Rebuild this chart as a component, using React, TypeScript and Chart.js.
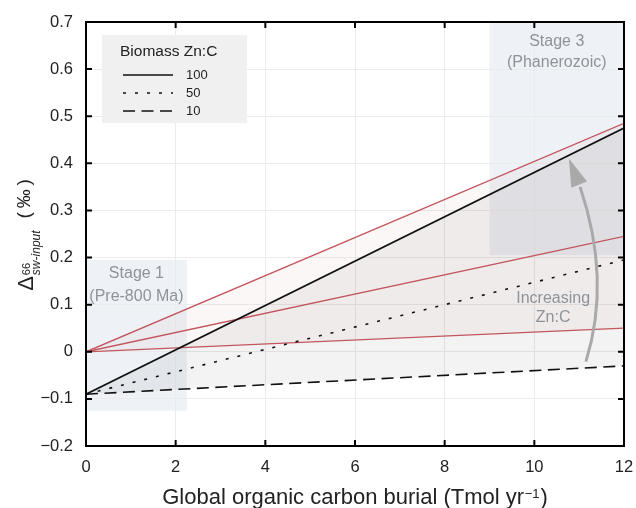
import React, { useEffect, useRef } from 'react';
import { Chart, registerables } from 'chart.js';

Chart.register(...registerables);

// ---- data ----
const burial = [0, 12];
const zn100 = [-0.09, 0.475];
const zn50 = [-0.09, 0.195];
const zn10 = [-0.09, -0.03];
const redHigh = [0, 0.485];
const redMid = [0, 0.245];
const redLow = [0, 0.05];

const xTicks = [0, 2, 4, 6, 8, 10, 12];
const xTickLabels = ['0', '2', '4', '6', '8', '10', '12'];
const yTicks = [-0.2, -0.1, 0, 0.1, 0.2, 0.3, 0.4, 0.5, 0.6, 0.7];
const yTickLabels = ['\u22120.2', '\u22120.1', '0', '0.1', '0.2', '0.3', '0.4', '0.5', '0.6', '0.7'];

const stage1X = [0, 2.25];
const stage1Y = [-0.125, 0.195];
const stage3X = [9, 12];
const stage3Y = [0.205, 0.7];

const stage1Text = ['Stage 1', '(Pre-800 Ma)'];
const stage1TextPos = [[1.125, 0.166], [1.125, 0.117]];
const stage3Text = ['Stage 3', '(Phanerozoic)'];
const stage3TextPos = [[10.5, 0.658], [10.5, 0.614]];
const arrowText = ['Increasing', 'Zn:C'];
const arrowTextPos = [[10.42, 0.1125], [10.42, 0.072]];

// arrow: tail, control, head-base, tip (data units)
const arrowTail = [11.15, -0.021];
const arrowCtrl = [11.72, 0.153];
const arrowBase = [11.02, 0.35];
const arrowTip = [10.77, 0.41];

const legendTitle = 'Biomass Zn:C';
const legendLabels = ['100', '50', '10'];

const FONT = "'Liberation Sans', Arial, Helvetica, sans-serif";
const RED = 'rgb(194, 86, 95)';
const GREYTXT = '#8e9399';
const DOTTED = [3, 9];
const DASHED = [12, 6.5];

const pts = (ys: number[]) => burial.map((x, i) => ({ x, y: ys[i] }));

const decorPlugin = {
  id: 'decor',
  beforeDraw(chart: any) {
    const { ctx, scales } = chart;
    const xs = scales.x, ys = scales.y;
    const box = (bx: number[], by: number[]) => {
      const x0 = xs.getPixelForValue(bx[0]);
      const x1 = xs.getPixelForValue(bx[1]);
      const y0 = ys.getPixelForValue(by[1]);
      const y1 = ys.getPixelForValue(by[0]);
      ctx.save();
      ctx.fillStyle = '#eef2f7';
      ctx.fillRect(x0, y0, x1 - x0, y1 - y0);
      ctx.restore();
    };
    box(stage1X, stage1Y);
    box(stage3X, stage3Y);
  },
  afterDatasetsDraw(chart: any) {
    const { ctx, scales, chartArea } = chart;
    const xs = scales.x, ys = scales.y;
    const P = (p: number[]) => [xs.getPixelForValue(p[0]), ys.getPixelForValue(p[1])];

    // arrow
    const t = P(arrowTail), c = P(arrowCtrl), b = P(arrowBase), tip = P(arrowTip);
    ctx.save();
    ctx.strokeStyle = '#a9a9a9';
    ctx.fillStyle = '#a9a9a9';
    ctx.lineWidth = 3;
    ctx.beginPath();
    ctx.moveTo(t[0], t[1]);
    ctx.quadraticCurveTo(c[0], c[1], b[0], b[1]);
    ctx.stroke();
    const dx = tip[0] - b[0], dy = tip[1] - b[1];
    const len = Math.hypot(dx, dy);
    const nx = -dy / len, ny = dx / len;
    const hw = 8.5;
    const bx = tip[0] - (dx / len) * 28, by = tip[1] - (dy / len) * 28;
    ctx.beginPath();
    ctx.moveTo(tip[0], tip[1]);
    ctx.lineTo(bx + nx * hw, by + ny * hw);
    ctx.lineTo(bx - nx * hw, by - ny * hw);
    ctx.closePath();
    ctx.fill();
    ctx.restore();

    // annotation texts
    ctx.save();
    ctx.fillStyle = GREYTXT;
    ctx.font = `16px ${FONT}`;
    ctx.textAlign = 'center';
    ctx.textBaseline = 'middle';
    const txt = (lines: string[], pos: number[][]) => {
      lines.forEach((s, i) => {
        const p = P(pos[i]);
        ctx.fillText(s, p[0], p[1]);
      });
    };
    txt(stage1Text, stage1TextPos);
    txt(stage3Text, stage3TextPos);
    txt(arrowText, arrowTextPos);
    ctx.restore();

    // legend
    ctx.save();
    ctx.fillStyle = '#f0f0f0';
    ctx.fillRect(102, 35, 145, 88);
    ctx.fillStyle = '#222';
    ctx.font = `15.5px ${FONT}`;
    ctx.textAlign = 'left';
    ctx.textBaseline = 'middle';
    ctx.fillText(legendTitle, 120, 52);
    const dashes = [[], DOTTED, DASHED];
    const rowY = [75, 93, 111];
    legendLabels.forEach((lab, i) => {
      ctx.save();
      ctx.strokeStyle = '#111';
      ctx.lineWidth = 1.6;
      ctx.setLineDash(dashes[i]);
      ctx.beginPath();
      ctx.moveTo(123, rowY[i]);
      ctx.lineTo(173, rowY[i]);
      ctx.stroke();
      ctx.restore();
      ctx.font = `13px ${FONT}`;
      ctx.fillText(lab, 186, rowY[i] + 0.5);
    });
    ctx.restore();

    // frame and inward ticks
    const { left, right, top, bottom } = chartArea;
    ctx.save();
    ctx.strokeStyle = '#000';
    ctx.lineWidth = 2;
    ctx.strokeRect(left, top, right - left, bottom - top);
    ctx.beginPath();
    xTicks.forEach((v) => {
      const x = xs.getPixelForValue(v);
      ctx.moveTo(x, bottom); ctx.lineTo(x, bottom - 6);
      ctx.moveTo(x, top); ctx.lineTo(x, top + 6);
    });
    yTicks.forEach((v) => {
      const y = ys.getPixelForValue(v);
      ctx.moveTo(left, y); ctx.lineTo(left + 6, y);
      ctx.moveTo(right, y); ctx.lineTo(right - 6, y);
    });
    ctx.stroke();
    ctx.restore();

    // y-axis title (rotated) with super/subscripts
    ctx.save();
    const cy = (top + bottom) / 2;
    ctx.translate(33, cy);
    ctx.rotate(-Math.PI / 2);
    ctx.fillStyle = '#222';
    ctx.textAlign = 'left';
    ctx.textBaseline = 'alphabetic';
    ctx.font = `22px ${FONT}`;
    const wD = ctx.measureText('\u0394').width;
    ctx.font = `11px ${FONT}`;
    const w66 = ctx.measureText('66').width;
    ctx.font = `italic 12px ${FONT}`;
    const wSub = ctx.measureText('sw-input').width;
    ctx.font = `19px ${FONT}`;
    const wP = ctx.measureText('(\u2009\u2030\u2009)').width;
    const gap = 12;
    const total = wD + 1 + Math.max(w66, wSub) + gap + wP;
    const x0 = -total / 2 - 1;
    ctx.font = `22px ${FONT}`;
    ctx.fillText('\u0394', x0, 0);
    ctx.font = `11px ${FONT}`;
    ctx.fillText('66', x0 + wD + 1, -3);
    ctx.font = `italic 12px ${FONT}`;
    ctx.fillText('sw-input', x0 + wD + 1, 7);
    ctx.font = `19px ${FONT}`;
    ctx.fillText('(\u2009\u2030\u2009)', x0 + wD + 1 + Math.max(w66, wSub) + gap, -3);
    ctx.restore();

    // x-axis title with superscript
    ctx.save();
    ctx.fillStyle = '#222';
    ctx.textBaseline = 'alphabetic';
    ctx.textAlign = 'left';
    const main = 'Global organic carbon burial (Tmol yr';
    ctx.font = `22px ${FONT}`;
    const wm = ctx.measureText(main).width;
    const wc = ctx.measureText(')').width;
    ctx.font = `13px ${FONT}`;
    const ws = ctx.measureText('\u22121').width;
    const tw = wm + ws + 1.5 + wc;
    const sx = (left + right) / 2 - tw / 2;
    const baseY = 503.5;
    ctx.font = `22px ${FONT}`;
    ctx.fillText(main, sx, baseY);
    ctx.font = `13px ${FONT}`;
    ctx.fillText('\u22121', sx + wm + 0.5, baseY - 6);
    ctx.font = `22px ${FONT}`;
    ctx.fillText(')', sx + wm + ws + 1.5, baseY);
    ctx.restore();
  },
};

export default function App() {
  const ref = useRef<HTMLCanvasElement | null>(null);
  useEffect(() => {
    document.body.style.margin = '0';
    const canvas = ref.current!;
    const chart = new Chart(canvas, {
      type: 'line',
      data: {
        datasets: [
          {
            label: '100',
            data: pts(zn100),
            borderColor: '#111',
            borderWidth: 1.7,
            pointRadius: 0,
            fill: 2,
            backgroundColor: 'rgba(0,0,0,0.047)',
          },
          {
            label: '50',
            data: pts(zn50),
            borderColor: '#111',
            borderWidth: 1.6,
            borderDash: DOTTED,
            pointRadius: 0,
            fill: false,
          },
          {
            label: '10',
            data: pts(zn10),
            borderColor: '#111',
            borderWidth: 1.6,
            borderDash: DASHED,
            pointRadius: 0,
            fill: false,
          },
          {
            label: 'high',
            data: pts(redHigh),
            borderColor: RED,
            borderWidth: 1.3,
            pointRadius: 0,
            fill: 5,
            backgroundColor: 'rgba(200, 90, 100, 0.05)',
          },
          {
            label: 'mid',
            data: pts(redMid),
            borderColor: RED,
            borderWidth: 1.3,
            pointRadius: 0,
            fill: false,
          },
          {
            label: 'low',
            data: pts(redLow),
            borderColor: RED,
            borderWidth: 1.3,
            pointRadius: 0,
            fill: false,
          },
        ],
      },
      options: {
        responsive: false,
        animation: false,
        layout: { padding: { top: 22, right: 12, left: 0, bottom: 0 } },
        plugins: {
          legend: { display: false },
          tooltip: { enabled: false },
          filler: { drawTime: 'beforeDatasetsDraw' } as any,
        },
        scales: {
          x: {
            type: 'linear',
            min: 0,
            max: 12,
            afterBuildTicks: (s: any) => { s.ticks = xTicks.map((v) => ({ value: v })); },
            afterFit: (s: any) => { s.height = 62; s.paddingLeft = 0; s.paddingRight = 0; },
            grid: { color: '#ebebeb', lineWidth: 1, drawTicks: false },
            border: { display: false },
            ticks: {
              padding: 12,
              color: '#222',
              font: { family: FONT, size: 16.5 },
              maxRotation: 0,
              callback: (v: any, i: number) => xTickLabels[i],
            },
          },
          y: {
            type: 'linear',
            min: -0.2,
            max: 0.7,
            afterBuildTicks: (s: any) => { s.ticks = yTicks.map((v) => ({ value: v })); },
            afterFit: (s: any) => { s.width = 86; s.paddingTop = 0; s.paddingBottom = 0; },
            grid: { color: '#ebebeb', lineWidth: 1, drawTicks: false },
            border: { display: false },
            ticks: {
              padding: 13,
              color: '#222',
              font: { family: FONT, size: 16.5 },
              callback: (v: any, i: number) => yTickLabels[i],
            },
          },
        },
      },
      plugins: [decorPlugin],
    });
    return () => chart.destroy();
  }, []);
  return <canvas ref={ref} width={636} height={508} style={{ display: 'block' }} />;
}
